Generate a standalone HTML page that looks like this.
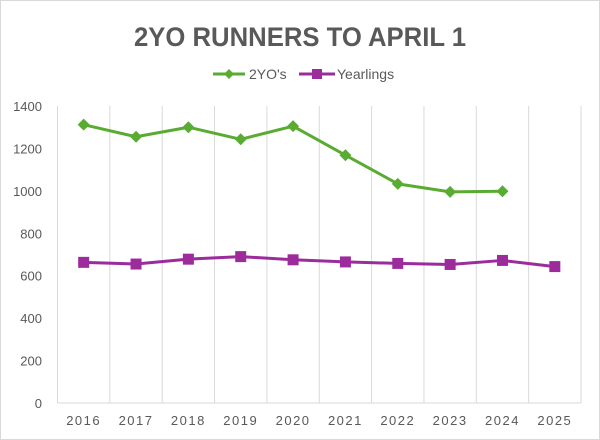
<!DOCTYPE html>
<html><head><meta charset="utf-8"><style>
body{margin:0;background:#fff}
svg{display:block;font-family:"Liberation Sans",sans-serif}
</style></head><body>
<svg id="chart" width="600" height="440">
<rect x="0.5" y="0.5" width="599" height="439" fill="#fff" stroke="#d9d9d9"/>
<text x="300" y="46" text-anchor="middle" font-size="27" font-weight="bold" fill="#595959" textLength="332" lengthAdjust="spacingAndGlyphs">2YO RUNNERS TO APRIL 1</text>
<g>
<g>
<line x1="213" y1="74" x2="245" y2="74" stroke="#5aab32" stroke-width="3"/>
<path d="M229 69 L234 74 L229 79 L224 74Z" fill="#5aab32"/>
<text x="249" y="79" font-size="14" fill="#595959">2YO's</text></g>
<g>
<line x1="299" y1="74" x2="335" y2="74" stroke="#9c2c9c" stroke-width="3"/>
<rect x="312" y="69" width="10" height="10" fill="#9c2c9c"/>
<text x="337" y="79" font-size="14" fill="#595959">Yearlings</text></g>
</g>
<g id="grid"></g><g id="axes"></g><g id="series"></g>
</svg>
<script>
const years=["2016","2017","2018","2019","2020","2021","2022","2023","2024","2025"];
const twoYO=[1312,1255,1300,1243,1305,1168,1033,995,998,null];
const yearlings=[663,655,678,690,675,665,658,653,672,643];
const yTicks=[0,200,400,600,800,1000,1200,1400];
const NS="http://www.w3.org/2000/svg";
const x0=57.5,step=52.35,yBase=403,yTop=106;
const xs=i=>x0+step*(i+0.5);
const ys=v=>yBase-(v/1400)*(yBase-yTop);
function mk(t,a,p){const e=document.createElementNS(NS,t);for(const k in a)e.setAttribute(k,a[k]);document.getElementById(p).appendChild(e);return e;}
for(let i=0;i<=years.length;i++){
 const g=mk("line",{x1:x0+step*i,x2:x0+step*i,y1:yTop,y2:yBase,stroke:"#d9d9d9","stroke-width":1},"grid");
 
 
}
const ax=mk("line",{x1:x0,x2:x0+step*years.length,y1:yBase,y2:yBase,stroke:"#d9d9d9","stroke-width":1},"axes");


yTicks.forEach(v=>{
 const t=mk("text",{x:42,y:ys(v)+5,"text-anchor":"end","font-size":"13",fill:"#595959"},"axes");
 t.textContent=v;
 
 
});
years.forEach((y,i)=>{
 const t=mk("text",{x:xs(i),y:425,"text-anchor":"middle","font-size":"13",fill:"#595959","letter-spacing":"1.5"},"axes");
 t.textContent=y;
 
 
});
function drawSeries(data,color,shape,name){
 let d="";data.forEach((v,i)=>{if(v==null)return;d+=(d?"L":"M")+xs(i)+" "+ys(v)+" ";});
 const p=mk("path",{d:d,fill:"none",stroke:color,"stroke-width":3,"stroke-linejoin":"round"},"series");
 
 
 data.forEach((v,i)=>{if(v==null)return;const cx=xs(i),cy=ys(v);let m;
  if(shape==="diamond")m=mk("path",{d:`M${cx} ${cy-6}L${cx+6} ${cy}L${cx} ${cy+6}L${cx-6} ${cy}Z`,fill:color},"series");
  else m=mk("rect",{x:cx-5.5,y:cy-5.5,width:11,height:11,fill:color},"series");
  
  
 });
}
drawSeries(twoYO,"#5aab32","diamond","twoyo");
drawSeries(yearlings,"#9c2c9c","square","yearlings");
</script>
</body></html>
